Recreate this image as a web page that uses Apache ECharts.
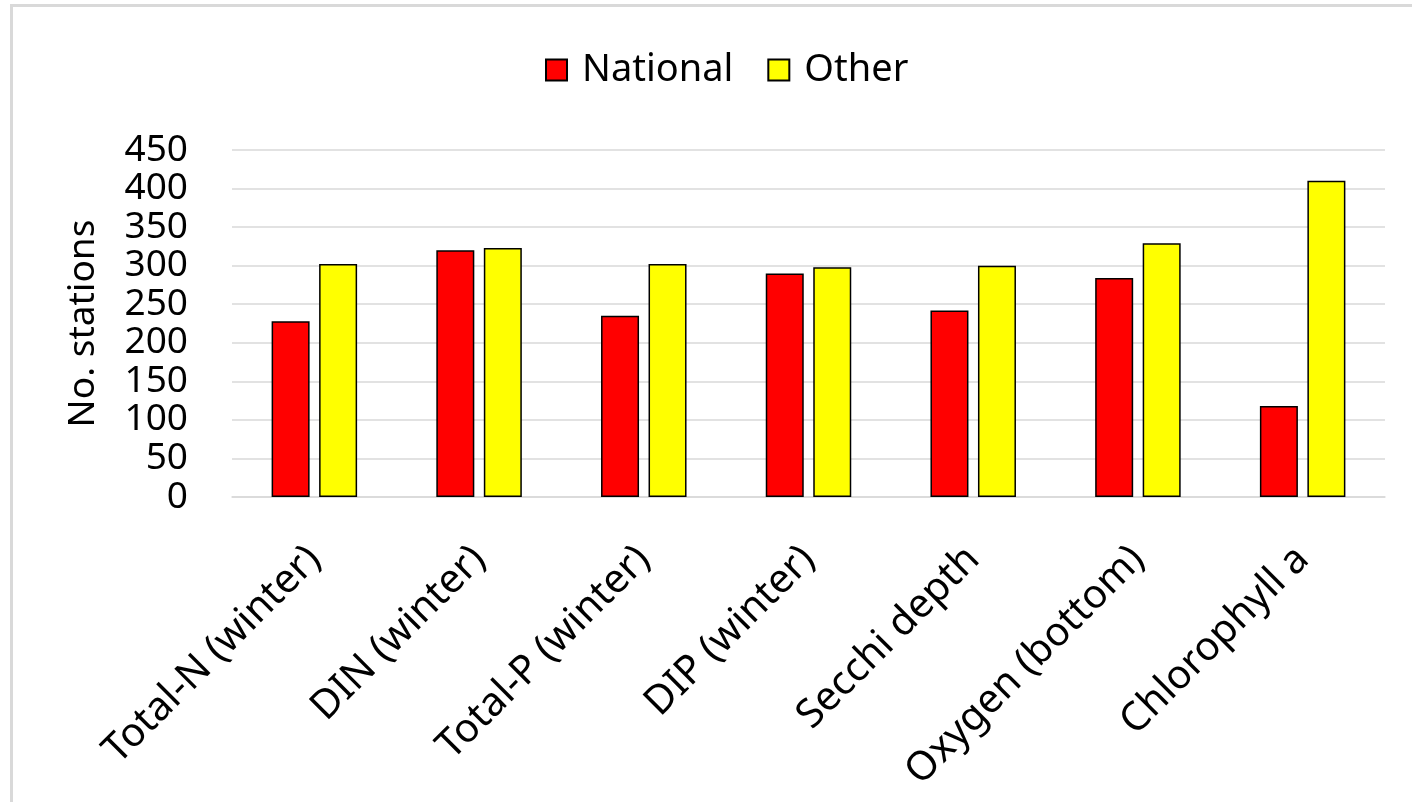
<!DOCTYPE html>
<html>
<head>
<meta charset="utf-8">
<style>
  html, body { margin: 0; padding: 0; background: #ffffff; }
  #chart { width: 1412px; height: 802px; }
</style>
<script src="https://cdn.jsdelivr.net/npm/echarts@6/dist/echarts.min.js"></script>
</head>
<body>
<div id="chart"></div>
<script>
// Monitoring stations per indicator
const categories = [
  'Total-N (winter)', 'DIN (winter)', 'Total-P (winter)', 'DIP (winter)',
  'Secchi depth', 'Oxygen (bottom)', 'Chlorophyll a'
];
const nationalStations = [228, 320, 235, 290, 242, 284, 118];
const otherStations    = [302, 323, 302, 298, 300, 329, 410];
const yTicks = { min: 0, max: 450, step: 50 };

const FONT = "'Noto Sans', 'Open Sans', sans-serif";
const chart = echarts.init(document.getElementById('chart'), null, { renderer: 'canvas' });

const barStyle = (color) => ({
  color: color,
  borderColor: '#000000',
  borderWidth: 1.5
});

chart.setOption({
  backgroundColor: '#ffffff',
  animation: false,
  textStyle: { fontFamily: FONT, color: '#000000' },
  graphic: [
    // thin grey frame along the top and left edges
    { type: 'rect', shape: { x: 10, y: 4, width: 1402, height: 3 }, style: { fill: '#d9d9d9' }, silent: true },
    { type: 'rect', shape: { x: 10, y: 4, width: 3, height: 798 }, style: { fill: '#d9d9d9' }, silent: true }
  ],
  legend: {
    top: 45,
    left: 540,
    itemWidth: 21,
    itemHeight: 21,
    itemGap: 34,
    icon: 'rect',
    textStyle: {
      fontFamily: FONT,
      fontSize: 38,
      color: '#000000',
      lineHeight: 40,
      padding: [0, 0, 0, 10]
    },
    data: ['National', 'Other']
  },
  grid: {
    left: 232,
    right: 27,
    top: 150,
    bottom: 305,
    containLabel: false
  },
  xAxis: {
    type: 'category',
    data: categories,
    axisLine: { show: true, lineStyle: { color: '#d9d9d9', width: 1.5 } },
    axisTick: { show: false },
    axisLabel: {
      rotate: 45,
      interval: 0,
      margin: 56,
      fontFamily: FONT,
      fontSize: 40,
      color: '#000000'
    }
  },
  yAxis: {
    type: 'value',
    min: yTicks.min,
    max: yTicks.max,
    interval: yTicks.step,
    name: 'No. stations',
    nameLocation: 'middle',
    nameRotate: 90,
    nameGap: 130,
    nameTextStyle: { fontFamily: FONT, fontSize: 37, color: '#000000' },
    axisLine: { show: false },
    axisTick: { show: false },
    splitLine: { lineStyle: { color: '#d9d9d9', width: 1.5 } },
    axisLabel: {
      margin: 44,
      fontFamily: FONT,
      fontSize: 37,
      color: '#000000'
    }
  },
  series: [
    {
      name: 'National',
      type: 'bar',
      data: nationalStations,
      barWidth: 38,
      barGap: '25%',
      itemStyle: barStyle('#ff0000')
    },
    {
      name: 'Other',
      type: 'bar',
      data: otherStations,
      barWidth: 38,
      itemStyle: barStyle('#ffff00')
    }
  ]
});
</script>
</body>
</html>
